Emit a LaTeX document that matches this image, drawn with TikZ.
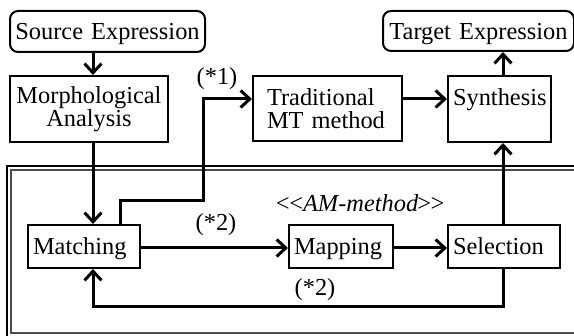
\documentclass[tikz,border=0pt]{standalone}
\usepackage{fontspec}
\setmainfont{Liberation Serif}
\usetikzlibrary{arrows.meta}
\begin{document}
\begin{tikzpicture}[x=0.5pt,y=-0.5pt,
  txt/.style={font=\fontsize{12.2}{11.5}\selectfont},
  box/.style={txt,draw,line width=1pt,anchor=north west,inner ysep=0pt,
    execute at begin node={\hyphenpenalty=10000}},
  endbox/.style={box,rounded corners=4pt,inner xsep=0pt,align=center,text depth=0pt},
  onebox/.style={box,inner xsep=2.5pt,align=left,text depth=0pt},
  twobox/.style={box,align=left},
  conn/.style={line width=1.5pt},
  arr/.style={conn,-{Straight Barb[length=4.6pt,width=8.5pt,line width=1.5pt]}},
  lbl/.style={txt,inner sep=0pt,anchor=base}]
\useasboundingbox (0,0) rectangle (574,336);

% frame around the AM part
\draw[line width=0.6pt] (7,166) rectangle (590,350);
\draw[line width=1pt,black!70] (11,170) rectangle (586,333);

% nodes
\node[endbox,minimum width=97.5pt,minimum height=20.5pt,text width=97.5pt] (src) at (9,10) {Source Expression};
\node[endbox,minimum width=95.5pt,minimum height=20pt,text width=95.5pt] (tgt) at (382,10) {Target Expression};
\node[twobox,inner xsep=0pt,align=center,minimum width=79pt,minimum height=33pt,text width=79pt] (morph) at (9,75) {Morphological\\Analysis};
\node[twobox,inner xsep=7pt,minimum width=74.5pt,minimum height=32.5pt,text width=60.5pt] (trad) at (252,75) {\mbox{Traditional}\\\mbox{MT method}};
\node[twobox,inner xsep=2.5pt,minimum width=51.5pt,minimum height=33pt,text width=46.5pt] (synth) at (447,75) {Synthesis\\\mbox{}};
\node[onebox,minimum width=56pt,minimum height=21.5pt,text width=51pt] (match) at (27,224) {Matching};
\node[onebox,minimum width=52pt,minimum height=21.5pt,text width=47pt] (map) at (288,224) {Mapping};
\node[onebox,minimum width=56pt,minimum height=21.5pt,text width=51pt] (sel) at (447,224) {Selection};

% labels
\node[lbl] (l1) at (217,85) {(*1)};
\node[lbl] (l2) at (216,231) {(*2)};
\node[lbl] (l3) at (315,296) {(*2)};
\node[lbl,font=\fontsize{12.2}{11.5}\selectfont\itshape] (am) at (360,212)
  {<\kern-1.6pt<\kern-0.6pt AM-method\kern-1.2pt>\kern-1.6pt>};

% routing columns and rows
\coordinate (colA) at (93,0);
\coordinate (colB) at (503,0);
\coordinate (colC) at (120,0);
\coordinate (colD) at (203,0);
\coordinate (rowT) at (0,99);
\coordinate (rowK) at (0,201);
\coordinate (rowM) at (0,248);
\coordinate (rowB) at (0,307);

% connectors
\draw[arr] (src.south -| colA) -- (morph.north -| colA);
\draw[arr] (morph.south -| colA) -- (match.north -| colA);
\draw[arr] (match.north -| colC) -- (colC |- rowK) -- (colD |- rowK) -- (colD |- rowT) -- (trad.west |- rowT);
\draw[arr] (trad.east |- rowT) -- (synth.west |- rowT);
\draw[arr] (synth.north -| colB) -- (tgt.south -| colB);
\draw[arr] (match.east |- rowM) -- (map.west |- rowM);
\draw[arr] (map.east |- rowM) -- (sel.west |- rowM);
\draw[arr] (sel.north -| colB) -- (synth.south -| colB);
\draw[arr] (sel.south -| colB) -- (colB |- rowB) -- (colA |- rowB) -- (match.south -| colA);
\end{tikzpicture}
\end{document}
